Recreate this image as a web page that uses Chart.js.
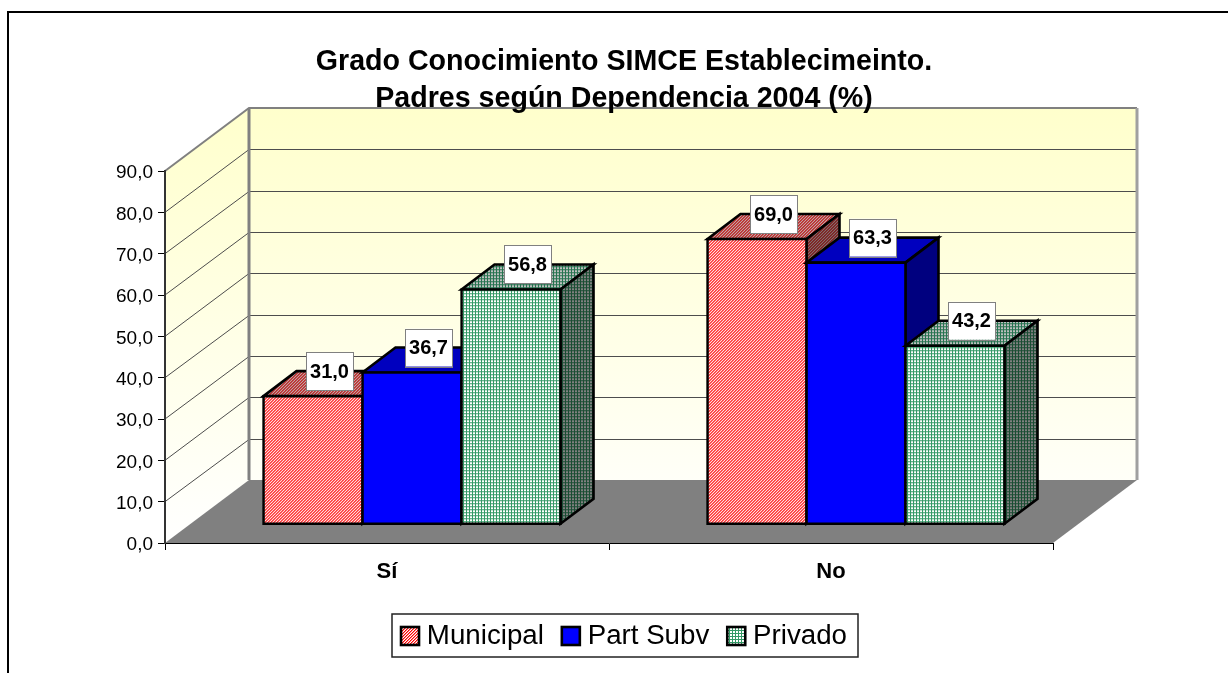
<!DOCTYPE html>
<html>
<head>
<meta charset="utf-8">
<style>html,body{margin:0;padding:0;background:#fff}canvas{display:block}</style>
<script src="https://cdn.jsdelivr.net/npm/chart.js@4"></script>
</head>
<body>
<canvas id="c" width="1228" height="673"></canvas>
<script>
const categories = ['Sí', 'No'];
const seriesNames = ['Municipal', 'Part Subv', 'Privado'];
const municipal = [31.0, 69.0];
const partSubv = [36.7, 63.3];
const privado = [56.8, 43.2];
const titleLines = ['Grado Conocimiento SIMCE Establecimeinto.', 'Padres según Dependencia 2004 (%)'];

const FONT = '"Liberation Sans", Arial, sans-serif';
const comma = v => Number(v).toFixed(1).replace('.', ',');

function tile(size, colourAt) {
  const c = document.createElement('canvas');
  c.width = c.height = size;
  const g = c.getContext('2d');
  for (let y = 0; y < size; y++) for (let x = 0; x < size; x++) {
    g.fillStyle = colourAt(x, y); g.fillRect(x, y, 1, 1);
  }
  return g.createPattern(c, 'repeat');
}
const diag = (a, b, c) => tile(3, (x, y) => [a, b, c][(x + y) % 3]);
const mesh = (bg, fg) => tile(3, (x, y) => (x % 3 === 0 || y % 3 === 0) ? fg : bg);

const faces = [
  { front: diag('#ff0000', '#ff8080', '#ffffff'), top: diag('#c00000', '#c06060', '#bfbfbf'), side: diag('#800000', '#804040', '#808080') },
  { front: '#0000ff', top: '#0000bf', side: '#00007f' },
  { front: mesh('#ffffff', '#339966'), top: mesh('#bfbfbf', '#267350'), side: mesh('#808080', '#1a4d33') }
];

const WALL = { dx: 84, dy: -63 };
const BAR = { tx: 25, ty: -18.75, dx: 33, dy: -25 };

const scene = {
  id: 'scene',
  afterLayout(chart) {
    const t = chart.titleBlock, l = chart.legend;
    t.left = 0; t.right = 1248;
    l.left = 0; l.right = 1247;
    const h = l.bottom - l.top;
    l.top = 636 - 27.7 / 2 - l.options.labels.padding;
    l.bottom = l.top + h;
  },
  beforeDraw(chart) {
    const c = chart.ctx, { x, y } = chart.scales;
    const L = x.left, R = x.right, B = y.getPixelForValue(0), T = y.getPixelForValue(90);
    const bT = T + WALL.dy, bB = B + WALL.dy, bL = L + WALL.dx, bR = R + WALL.dx;
    c.save();
    c.strokeStyle = '#000'; c.lineWidth = 2;
    c.beginPath(); c.moveTo(8, 673); c.lineTo(8, 12); c.lineTo(1228, 12); c.stroke();
    const g = c.createLinearGradient(0, bT, 0, B);
    g.addColorStop(0, '#ffffcc'); g.addColorStop(1, '#ffffff');
    c.fillStyle = g;
    c.fillRect(bL, bT, bR - bL, bB - bT);
    c.beginPath(); c.moveTo(L, T); c.lineTo(bL, bT); c.lineTo(bL, bB); c.lineTo(L, B); c.closePath(); c.fill();
    c.fillStyle = '#808080';
    c.beginPath(); c.moveTo(L, B); c.lineTo(R, B); c.lineTo(bR, bB); c.lineTo(bL, bB); c.closePath(); c.fill();
    c.strokeStyle = '#4d4d4d'; c.lineWidth = 1;
    y.ticks.forEach(tk => {
      if (tk.value === 0 || tk.value === 90) return;
      const p = y.getPixelForValue(tk.value);
      const q = Math.round(p + WALL.dy) + 0.5;
      c.beginPath(); c.moveTo(L, p); c.lineTo(bL, q); c.lineTo(bR, q); c.stroke();
    });
    c.strokeStyle = '#808080'; c.lineWidth = 2;
    c.beginPath(); c.moveTo(L, T); c.lineTo(bL, bT); c.lineTo(bR, bT); c.stroke();
    c.lineWidth = 3;
    c.beginPath(); c.moveTo(bL, bT); c.lineTo(bL, bB); c.stroke();
    c.strokeStyle = '#a0a0a0';
    c.beginPath(); c.moveTo(bR, bT); c.lineTo(bR, bB); c.stroke();
    c.strokeStyle = '#222'; c.lineWidth = 1.5; c.fillStyle = '#fff';
    c.fillRect(392, 614, 466, 43); c.strokeRect(392, 614, 466, 43);
    c.restore();
  },
  beforeDatasetsDraw(chart) {
    const c = chart.ctx;
    // Draw left-to-right so each bar's front covers its left neighbour's side face.
    chart.data.datasets.forEach((d, i) => {
      const meta = chart.getDatasetMeta(i), f = faces[i];
      c.save();
      c.translate(BAR.tx, BAR.ty);
      meta.data.forEach(b => {
        const l = b.x - b.width / 2, r = b.x + b.width / 2, t = b.y, ba = b.base;
        c.strokeStyle = '#000'; c.lineWidth = 2.6; c.lineJoin = 'miter';
        c.fillStyle = f.top;
        c.beginPath(); c.moveTo(l, t); c.lineTo(l + BAR.dx, t + BAR.dy); c.lineTo(r + BAR.dx, t + BAR.dy); c.lineTo(r, t); c.closePath(); c.fill(); c.stroke();
        c.fillStyle = f.side;
        c.beginPath(); c.moveTo(r, t); c.lineTo(r + BAR.dx, t + BAR.dy); c.lineTo(r + BAR.dx, ba + BAR.dy); c.lineTo(r, ba); c.closePath(); c.fill(); c.stroke();
      });
      meta.controller.draw();
      c.restore();
    });
    // Value labels
    c.save();
    c.font = 'bold 20px ' + FONT; c.textAlign = 'center'; c.textBaseline = 'middle';
    chart.data.datasets.forEach((d, i) => {
      chart.getDatasetMeta(i).data.forEach((b, j) => {
        const cx = b.x + BAR.tx + BAR.dx / 2, cy = b.y + BAR.ty + BAR.dy;
        c.fillStyle = '#fff'; c.strokeStyle = '#808080'; c.lineWidth = 1;
        c.fillRect(cx - 23.5, cy - 19, 47, 38);
        c.strokeRect(Math.round(cx - 23.5) + 0.5, Math.round(cy - 19) + 0.5, 47, 38);
        c.fillStyle = '#000';
        c.fillText(comma(d.data[j]), cx, cy + 1);
      });
    });
    c.restore();
    return false;
  },
  afterDraw(chart) {
    const c = chart.ctx, hits = chart.legend.legendHitBoxes;
    c.save();
    hits.forEach((h, i) => {
      c.fillStyle = faces[i].front; c.strokeStyle = '#000'; c.lineWidth = 2.6;
      c.fillRect(h.left + 1, 627, 18, 18);
      c.strokeRect(h.left + 1, 627, 18, 18);
    });
    c.restore();
  }
};

new Chart(document.getElementById('c'), {
  type: 'bar',
  plugins: [scene],
  data: {
    labels: categories,
    datasets: [municipal, partSubv, privado].map((values, i) => ({
      label: seriesNames[i],
      data: values,
      backgroundColor: faces[i].front,
      borderColor: '#000',
      borderWidth: 2.6,
      borderSkipped: false,
      inflateAmount: 1.3,
      clip: false,
      categoryPercentage: 0.669,
      barPercentage: 1
    }))
  },
  options: {
    responsive: false,
    animation: false,
    events: [],
    layout: { padding: { left: 0, right: 175, top: 0, bottom: 0 } },
    plugins: {
      tooltip: { enabled: false },
      title: {
        display: true, text: titleLines, color: '#000',
        font: { family: FONT, size: 28.6, weight: 'bold', lineHeight: 37 / 28.6 },
        padding: { top: 44, bottom: 53 }
      },
      legend: {
        display: true, position: 'bottom',
        labels: {
          font: { family: FONT, size: 27.7 }, color: '#000',
          boxWidth: 13, boxHeight: 13, padding: 17,
          generateLabels: ch => ch.data.datasets.map((d, i) => ({
            text: d.label, fontColor: '#000', fillStyle: 'rgba(0,0,0,0)', strokeStyle: 'rgba(0,0,0,0)', lineWidth: 0, datasetIndex: i, hidden: false
          }))
        }
      }
    },
    scales: {
      x: {
        afterFit(s) { s.height = 130 - s.chart.legend.height; },
        grid: { drawOnChartArea: false, drawTicks: true, tickLength: 7, color: '#000' },
        border: { color: '#000', width: 1 },
        ticks: { color: '#000', padding: 9, maxRotation: 0, font: { family: FONT, size: 22, weight: 'bold' } }
      },
      y: {
        min: 0, max: 90,
        afterFit(s) { s.width = 165; },
        grid: { drawOnChartArea: false, drawTicks: true, tickLength: 7, color: '#000' },
        border: { color: '#333', width: 2 },
        ticks: { stepSize: 10, color: '#000', padding: 5, labelOffset: 2, font: { family: FONT, size: 19 }, callback: v => comma(v) }
      }
    }
  }
});
</script>
</body>
</html>
